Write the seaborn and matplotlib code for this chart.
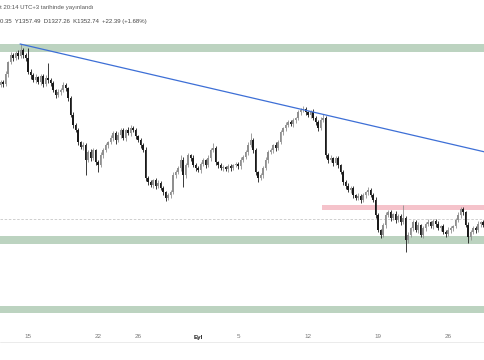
from __future__ import annotations

import matplotlib

matplotlib.use("Agg")

import matplotlib.dates as mdates
import matplotlib.pyplot as plt
import numpy as np
import pandas as pd
import seaborn as sns

# 6h candles, ETH/USD style, Aug 12 -> Sep 28
first_candle = "2022-08-12 06:00"
first_open = 1860

closes = [
    1872, 1864, 1904, 1952, 1980, 1968, 1988, 1976, 2000, 1980,
    1968, 1912, 1900, 1880, 1892, 1872, 1896, 1864, 1888, 1880,
    1868, 1840, 1820, 1832, 1840, 1860, 1848, 1808, 1740, 1700,
    1680, 1632, 1612, 1620, 1560, 1592, 1568, 1600, 1552, 1540,
    1580, 1600, 1620, 1632, 1648, 1668, 1640, 1660, 1680, 1648,
    1680, 1668, 1688, 1680, 1656, 1640, 1620, 1600, 1488, 1472,
    1460, 1480, 1456, 1468, 1448, 1432, 1408, 1420, 1432, 1500,
    1512, 1528, 1560, 1500, 1540, 1580, 1568, 1540, 1528, 1520,
    1544, 1560, 1540, 1568, 1600, 1608, 1552, 1540, 1528, 1532,
    1524, 1536, 1528, 1540, 1544, 1536, 1560, 1572, 1592, 1620,
    1640, 1600, 1512, 1488, 1500, 1528, 1560, 1592, 1600, 1620,
    1608, 1632, 1672, 1688, 1700, 1712, 1704, 1720, 1728, 1752,
    1760, 1764, 1752, 1740, 1752, 1728, 1712, 1688, 1720, 1728,
    1580, 1560, 1568, 1548, 1568, 1540, 1512, 1472, 1456, 1440,
    1448, 1420, 1408, 1416, 1400, 1420, 1432, 1440, 1420, 1400,
    1340, 1280, 1260, 1300, 1340, 1352, 1328, 1344, 1320, 1336,
    1312, 1328, 1240, 1260, 1288, 1312, 1280, 1300, 1260, 1288,
    1304, 1312, 1296, 1316, 1304, 1288, 1296, 1272, 1264, 1280,
    1288, 1296, 1320, 1340, 1364, 1352, 1300, 1252, 1272, 1288,
    1280, 1304, 1312, 1300,
]

# wick length above / below the candle body
wick_hi = [
    10, 8, 12, 6, 14, 8, 10, 12, 24, 8,
    10, 40, 12, 8, 14, 6, 10, 8, 12, 60,
    8, 10, 6, 12, 8, 12, 10, 6, 8, 12,
    10, 8, 6, 12, 8, 10, 14, 8, 6, 10,
    12, 8, 10, 6, 14, 8, 10, 12, 8, 10,
    6, 12, 12, 8, 10, 6, 8, 10, 12, 8,
    10, 6, 8, 12, 8, 10, 6, 8, 10, 14,
    8, 10, 20, 12, 8, 10, 6, 12, 8, 10,
    8, 10, 6, 12, 10, 20, 8, 6, 10, 8,
    6, 10, 8, 6, 10, 8, 12, 8, 10, 12,
    28, 10, 8, 6, 10, 8, 12, 8, 10, 6,
    12, 8, 10, 6, 12, 8, 10, 8, 6, 10,
    8, 12, 10, 6, 8, 12, 10, 8, 12, 16,
    10, 8, 12, 6, 10, 8, 6, 10, 8, 12,
    8, 10, 6, 12, 8, 10, 6, 12, 8, 10,
    12, 8, 6, 10, 12, 8, 10, 6, 12, 8,
    10, 52, 8, 12, 6, 10, 8, 12, 6, 10,
    8, 12, 6, 10, 8, 12, 6, 10, 8, 12,
    10, 6, 8, 12, 8, 10, 6, 12, 8, 10,
    8, 12, 6, 10,
]
wick_lo = [
    8, 12, 6, 10, 8, 12, 6, 10, 8, 12,
    10, 8, 14, 6, 12, 8, 10, 12, 8, 10,
    12, 8, 10, 6, 12, 8, 10, 12, 8, 10,
    6, 12, 8, 10, 60, 8, 12, 6, 10, 28,
    8, 10, 6, 12, 8, 10, 14, 8, 10, 6,
    12, 8, 10, 6, 12, 8, 10, 8, 12, 10,
    8, 12, 10, 6, 8, 10, 12, 8, 10, 6,
    10, 8, 12, 48, 10, 8, 12, 6, 10, 8,
    12, 8, 10, 6, 12, 8, 10, 12, 8, 10,
    8, 12, 10, 6, 8, 12, 10, 8, 6, 10,
    8, 12, 10, 16, 8, 10, 6, 12, 8, 10,
    10, 6, 8, 12, 10, 8, 6, 10, 12, 8,
    10, 8, 12, 6, 10, 8, 12, 10, 8, 6,
    12, 10, 8, 12, 6, 10, 8, 12, 10, 8,
    10, 12, 8, 6, 10, 8, 12, 10, 6, 8,
    10, 8, 12, 8, 10, 6, 12, 8, 10, 8,
    12, 8, 48, 10, 8, 12, 6, 10, 8, 12,
    10, 6, 8, 12, 10, 8, 12, 6, 10, 8,
    12, 10, 8, 6, 10, 12, 8, 24, 10, 8,
    10, 6, 12, 8,
]

# horizontal zones (price bands) and levels
green_zones = [(1992, 2024), (1224, 1256), (948, 976)]
pink_zone = (1360, 1380)
pink_start = "2022-09-13 10:00"
dashed_level = 1324

# descending trend line anchors
trend_dates = ["2022-08-14 05:00", "2022-09-29 17:00"]
trend_prices = [2024, 1592]

tick_dates = ["2022-08-15", "2022-08-22", "2022-08-26", "2022-09-01",
              "2022-09-05", "2022-09-12", "2022-09-19", "2022-09-26"]
tick_labels = ["15", "22", "26", "Eyl", "5", "12", "19", "26"]

header_1 = "t 20:14 UTC+3 tarihinde yayınlandı"
header_2 = "0.35  Y1357.49  D1327.26  K1352.74  +22.39 (+1.68%)"

x_range = ("2022-08-12 04:48", "2022-09-29 16:48")
y_range = (912, 2200)


def build_ohlc() -> pd.DataFrame:
    df = pd.DataFrame({
        "time": pd.date_range(first_candle, periods=len(closes), freq="6h"),
        "close": closes,
    })
    df["open"] = [first_open] + closes[:-1]
    body_top = df[["open", "close"]].max(axis=1)
    body_bot = df[["open", "close"]].min(axis=1)
    df["high"] = body_top + np.array(wick_hi)
    df["low"] = body_bot - np.array(wick_lo)
    df["x"] = mdates.date2num(df["time"])
    return df


def draw(df: pd.DataFrame) -> None:
    sns.set_theme(style="white")
    plt.rcParams["font.family"] = ["Liberation Sans", "DejaVu Sans"]

    fig = plt.figure(figsize=(4.85, 3.6), dpi=100)
    ax = fig.add_axes([0, 1 - 322 / 360, 1, 322 / 360])

    x0, x1 = mdates.date2num(pd.to_datetime(list(x_range)))

    for lo, hi in green_zones:
        ax.axhspan(lo, hi, color="#bcd3c0", lw=0, zorder=1)
    ax.fill_between([mdates.date2num(pd.Timestamp(pink_start)), x1],
                    pink_zone[0], pink_zone[1], color="#f5c3cb", lw=0, zorder=1)
    ax.axhline(dashed_level, color="#c8c8c8", lw=0.6, ls=(0, (3, 2)), zorder=1)

    up = df["close"] >= df["open"]
    colors = np.where(up, "#8f8f8f", "#1a1a1a")
    ax.vlines(df["x"], df["low"], df["high"], colors=colors, lw=0.6, zorder=3)
    ax.bar(df["x"], (df["close"] - df["open"]).abs().clip(lower=2),
           bottom=df[["open", "close"]].min(axis=1), width=0.17,
           color=colors, lw=0, zorder=4)

    trend = pd.DataFrame({"x": mdates.date2num(pd.to_datetime(trend_dates)),
                          "y": trend_prices})
    sns.lineplot(data=trend, x="x", y="y", ax=ax, color="#3d6fd6", lw=0.9, zorder=5)

    ax.set_xlim(x0, x1)
    ax.set_ylim(*y_range)
    ax.set_yticks([])
    ax.set_xticks(mdates.date2num(pd.to_datetime(tick_dates)))
    ax.set_xticklabels(tick_labels, fontsize=4.5, color="#777777")
    ax.tick_params(axis="x", length=0, pad=9)
    for lab in ax.get_xticklabels():
        if lab.get_text() == "Eyl":
            lab.set_color("#222222")
            lab.set_fontweight("bold")
    ax.set_xlabel("")
    ax.set_ylabel("")
    for s in ax.spines.values():
        s.set_visible(False)

    fig.text(0.0, 1 - 8 / 360, header_1, fontsize=4.3, color="#555555", va="center")
    fig.text(0.0, 1 - 22 / 360, header_2, fontsize=4.3, color="#444444", va="center")
    fig.add_artist(plt.Line2D([0, 1], [1 - 342 / 360] * 2, color="#e8e8e8", lw=0.6))

    fig.savefig("out.png", dpi=100, facecolor="white")
    plt.close(fig)


def main() -> None:
    draw(build_ohlc())


if __name__ == "__main__":
    main()
